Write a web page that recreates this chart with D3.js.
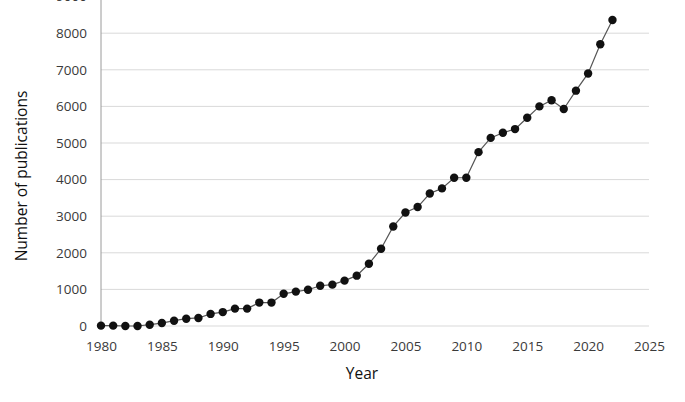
<!DOCTYPE html>
<html>
<head>
<meta charset="utf-8">
<script src="https://cdn.jsdelivr.net/npm/d3@7"></script>
<style>
	body { margin: 0; background: #fff; }
	svg text { font-family: "Open Sans", "Liberation Sans", sans-serif; fill: #3a3a3a; }
</style>
</head>
<body>
<svg id="chart" width="685" height="402"></svg>
<script>
// values
let years = d3.range(1980, 2023);
let pubs = [10, 10, 0, 0, 35, 80, 145, 200, 220, 330,
	380, 475, 475, 640, 640, 880, 940, 990, 1100, 1130,
	1240, 1375, 1700, 2110, 2720, 3100, 3250, 3620, 3760, 4050,
	4050, 4750, 5140, 5280, 5380, 5690, 6000, 6170, 5930, 6430,
	6900, 7700, 8360];
let xTicks = [1980, 1985, 1990, 1995, 2000, 2005, 2010, 2015, 2020, 2025];
let yTicks = [0, 1000, 2000, 3000, 4000, 5000, 6000, 7000, 8000, 9000];

let data = years.map((y, i) => ({ year: y, value: pubs[i] }));

let svg = d3.select('svg#chart');
let margin = { left: 101, right: 36, bottom: 76 };
let x = d3.scaleLinear([1980, 2025], [margin.left, 685 - margin.right]);
let y = d3.scaleLinear([0, 9000], [402 - margin.bottom, -3.4]);

// gridlines
svg.append('g').selectAll('line')
	.data(yTicks)
	.join('line')
	.attr('x1', x(1980))
	.attr('x2', x(2025))
	.attr('y1', d => y(d))
	.attr('y2', d => y(d))
	.attr('stroke', '#d9d9d9')
	.attr('stroke-width', 1);

// y axis line
svg.append('line')
	.attr('x1', x(1980)).attr('x2', x(1980))
	.attr('y1', y(9000)).attr('y2', y(0))
	.attr('stroke', '#9a9a9a');

// y labels
let yAxis = svg.append('g')
	.attr('transform', 'translate(' + (x(1980) - 14) + ',0)')
	.call(d3.axisLeft(y).tickValues(yTicks).tickFormat(d3.format('d')).tickSize(0).tickPadding(0));
yAxis.select('.domain').remove();
yAxis.selectAll('text').attr('font-size', 13.5).attr('font-family', null);

// x labels
let xAxis = svg.append('g')
	.attr('transform', 'translate(0,' + (y(0) + 15) + ')')
	.call(d3.axisBottom(x).tickValues(xTicks).tickFormat(d3.format('d')).tickSize(0).tickPadding(0));
xAxis.select('.domain').remove();
xAxis.selectAll('text').attr('font-size', 13.5).attr('font-family', null);

// titles
svg.append('text')
	.attr('x', 362).attr('y', 379)
	.attr('text-anchor', 'middle')
	.attr('font-size', 15.5)
	.style('fill', '#111')
	.text('Year');
svg.append('text')
	.attr('transform', 'translate(27,176) rotate(-90)')
	.attr('text-anchor', 'middle')
	.attr('font-size', 15.5)
	.style('fill', '#111')
	.text('Number of publications');

// series
let line = d3.line()
	.x(d => x(d.year))
	.y(d => y(d.value));
svg.append('path')
	.datum(data)
	.attr('fill', 'none')
	.attr('stroke', '#555')
	.attr('stroke-width', 1.2)
	.attr('d', line);
svg.append('g').selectAll('circle')
	.data(data)
	.join('circle')
	.attr('cx', d => x(d.year))
	.attr('cy', d => y(d.value))
	.attr('r', 4.2)
	.attr('fill', '#111');
</script>
</body>
</html>
